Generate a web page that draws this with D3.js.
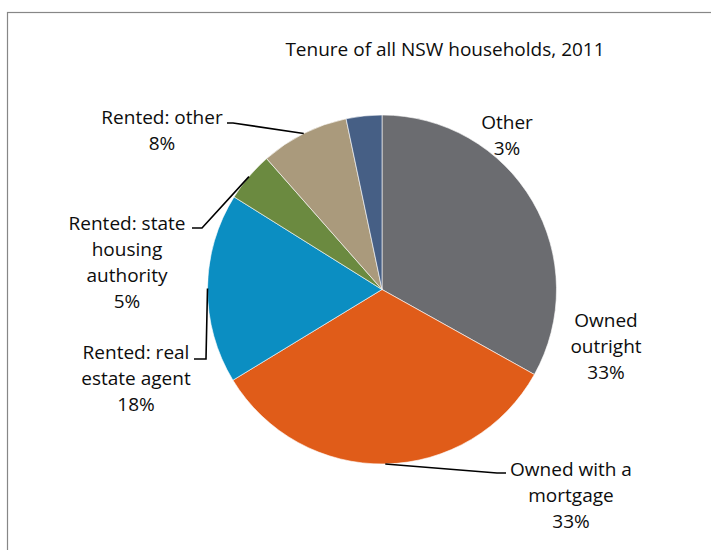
<!DOCTYPE html>
<meta charset="utf-8">
<head>
<script src="https://cdn.jsdelivr.net/npm/d3@7"></script>
<style>
  body { margin: 0; background: #fff; }
  text { font-family: "Open Sans", sans-serif; font-size: 19px; fill: #0d0d0d; }
</style>
</head>
<body>
<svg id="chart" width="711" height="550"></svg>
<script>
// slice data, clockwise from 12 o'clock
var categories = ["Owned outright", "Owned with a mortgage", "Rented: real estate agent",
                  "Rented: state housing authority", "Rented: other", "Other"];
var values = [33.1, 33.2, 17.6, 4.6, 8.2, 3.3];
var labelLines = [["Owned", "outright"], ["Owned with a", "mortgage"], ["Rented: real", "estate agent"],
                  ["Rented: state", "housing", "authority"], ["Rented: other"], ["Other"]];
var colors = ["#6b6c70", "#e05c19", "#0b8ec2", "#6b8a40", "#aa9a7c", "#465f85"];
var title = "Tenure of all NSW households, 2011";

var cx = 382, cy = 289.5, r = 174.5;

// label placement: text centre x, first baseline y, and elbow of leader (null = no leader)
var layout = [
  {x: 606, y: 327, elbow: null},
  {x: 571, y: 476, elbow: [[506, 473], [497, 473]]},
  {x: 136, y: 359, elbow: [[194, 359], [206, 359]]},
  {x: 127, y: 230, elbow: [[192, 228], [202, 228]]},
  {x: 162, y: 124, elbow: [[227, 123], [233, 123]]},
  {x: 507, y: 129, elbow: null}
];

var svg = d3.select("#chart");

// chart area border
svg.append("rect")
  .attr("x", 7.5).attr("y", 12.5)
  .attr("width", 720).attr("height", 560)
  .attr("fill", "none").attr("stroke", "#878787").attr("stroke-width", 1.2);

svg.append("text")
  .attr("x", 445).attr("y", 56)
  .attr("text-anchor", "middle")
  .text(title);

var pie = d3.pie().sort(null).value(function(d){ return d; });
var arcs = pie(values);
var arc = d3.arc().innerRadius(0).outerRadius(r);

var g = svg.append("g").attr("transform", "translate(" + cx + "," + cy + ")");
g.selectAll("path.slice")
  .data(arcs)
  .enter().append("path")
  .attr("class", "slice")
  .attr("d", arc)
  .attr("fill", function(d, i){ return colors[i]; })
  .attr("stroke", "#fff")
  .attr("stroke-width", 0.6);

// leader lines from the slice edge at mid angle
arcs.forEach(function(d, i){
  var L = layout[i];
  if (!L.elbow) return;
  var a = (d.startAngle + d.endAngle) / 2;
  var ex = cx + r * Math.sin(a), ey = cy - r * Math.cos(a);
  var pts = L.elbow.concat([[ex, ey]]);
  svg.append("path")
    .attr("d", d3.line()(pts))
    .attr("fill", "none")
    .attr("stroke", "#000")
    .attr("stroke-width", 1.6);
});

// labels
arcs.forEach(function(d, i){
  var L = layout[i];
  var lines = labelLines[i].concat([Math.round(values[i]) + "%"]);
  var t = svg.append("text").attr("text-anchor", "middle");
  lines.forEach(function(s, k){
    t.append("tspan").attr("x", L.x).attr("y", L.y + k * 26).text(s);
  });
});
</script>
</body>
